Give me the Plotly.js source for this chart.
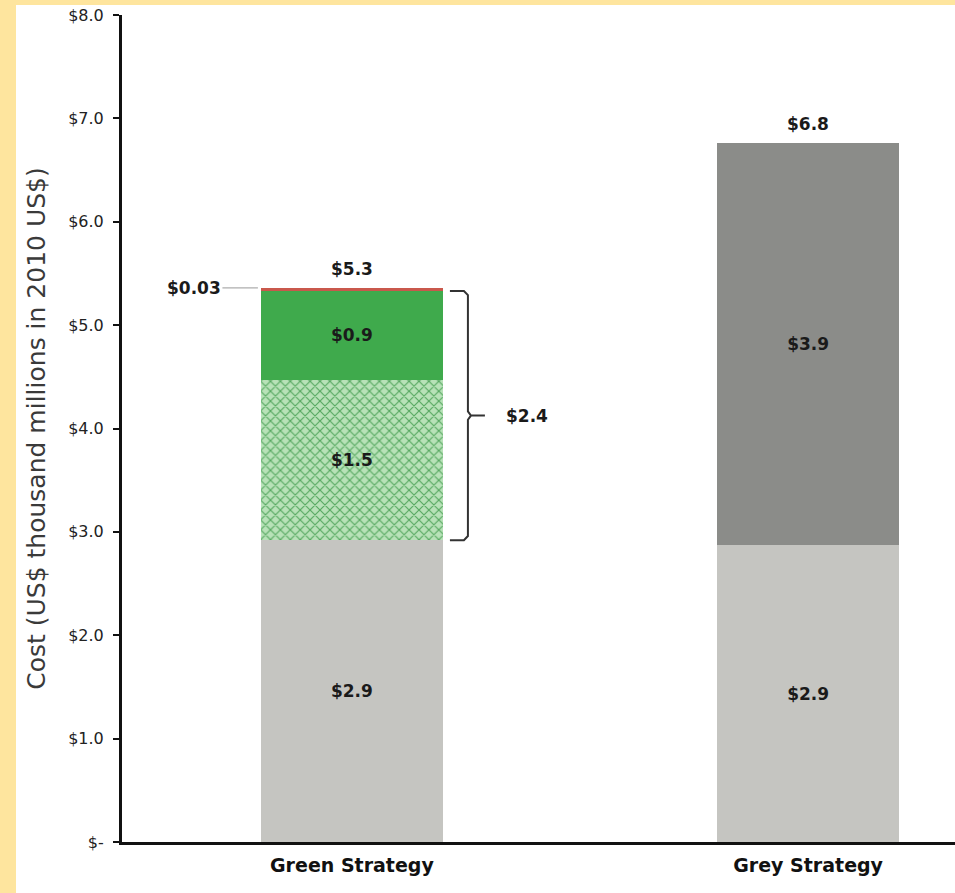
<!DOCTYPE html>
<html>
<head>
<meta charset="utf-8">
<script src="https://cdn.plot.ly/plotly-3.0.1.min.js"></script>
<style>
html,body{margin:0;padding:0;background:#FEE59E;width:955px;height:893px;overflow:hidden;}
#chart{position:absolute;left:16px;top:5px;width:939px;height:888px;background:#fff;}
</style>
</head>
<body>
<div id="chart"></div>
<script>
// ---- data ----
const categories = ["Green Strategy", "Grey Strategy"];
const baseCost = [2.92, 2.87];          // light grey segment
const greenHatch = [1.55, 0];           // hatched green segment
const greenSolid = [0.86, 0];           // solid green segment
const redSliver = [0.03, 0];            // thin red segment
const greyExtra = [0, 3.89];            // dark grey segment
const baseLabels = ["$2.9", "$2.9"];
const hatchLabels = ["$1.5", ""];
const solidLabels = ["$0.9", ""];
const greyLabels = ["", "$3.9"];
const totalLabels = ["$5.3", "$6.8"];
const sliverLabel = "$0.03";
const bracketLabel = "$2.4";
const tickValues = [0, 1, 2, 3, 4, 5, 6, 7, 8];
const tickLabels = ["$-", "$1.0", "$2.0", "$3.0", "$4.0", "$5.0", "$6.0", "$7.0", "$8.0"];

const FONT = "DejaVu Sans, sans-serif";
const labelFont = {family: FONT, size: 17, color: "#1a1a1a", weight: 700};
const W = 0.4;

function barTrace(vals, color, labels, extra) {
  return Object.assign({
    type: "bar", x: categories, y: vals, width: W,
    marker: {color: color, line: {width: 0}},
    text: labels, texttemplate: "%{text}", textposition: "inside",
    insidetextanchor: "middle", textangle: 0,
    insidetextfont: labelFont, hoverinfo: "skip", showlegend: false
  }, extra || {});
}

const totals = categories.map((c, i) => baseCost[i] + greenHatch[i] + greenSolid[i] + redSliver[i] + greyExtra[i]);

const traces = [
  barTrace(baseCost, "#C5C5C1", baseLabels),
  barTrace(greenHatch, "#B3DEB3", hatchLabels, {
    marker: {color: "#B3DEB3", line: {width: 0},
      pattern: {shape: "x", fgcolor: "#55A85F", bgcolor: "#B8E2B8", size: 7, solidity: 0.3}}
  }),
  barTrace(greenSolid, "#3FAA4C", solidLabels),
  barTrace(redSliver, "#C9584C", ["", ""]),
  barTrace(greyExtra, "#8B8C89", greyLabels)
];

// bracket around the two green segments of the first bar
const y0 = baseCost[0];
const y1 = baseCost[0] + greenHatch[0] + greenSolid[0];
const ym = (y0 + y1) / 2;
const bracketPath = `M 98 ${y1} L 112 ${y1} L 116 ${y1 - 0.04} L 116 ${ym + 0.04} L 119 ${ym} L 133 ${ym} M 119 ${ym} L 116 ${ym - 0.04} L 116 ${y0 + 0.04} L 112 ${y0} L 98 ${y0}`;

const totalAnnotations = categories.map((c, i) => ({
  x: c, y: totals[i], xref: "x", yref: "y", yanchor: "bottom", yshift: 7,
  text: totalLabels[i], showarrow: false, font: labelFont
}));

const layout = {
  width: 939, height: 888,
  margin: {l: 106, r: 0, t: 10, b: 51},
  paper_bgcolor: "#ffffff", plot_bgcolor: "#ffffff",
  barmode: "stack",
  bargap: 0,
  font: {family: FONT, color: "#1a1a1a"},
  xaxis: {
    type: "category", range: [-0.504, 1.322],
    showline: true, linecolor: "#111", linewidth: 3,
    ticks: "", showgrid: false, zeroline: false,
    ticklabelstandoff: 4,
    tickfont: {family: FONT, size: 19, color: "#111", weight: 700}
  },
  yaxis: {
    range: [0, 8], tickvals: tickValues, ticktext: tickLabels,
    showline: true, linecolor: "#111", linewidth: 3,
    ticks: "outside", ticklen: 6, tickwidth: 2, tickcolor: "#111",
    showgrid: false, zeroline: false,
    tickfont: {family: FONT, size: 16, color: "#222"},
    ticklabelstandoff: 6,
    title: {text: "Cost (US$ thousand millions in 2010 US$)", standoff: 16,
      font: {family: FONT, size: 25, color: "#3a3a3a", weight: 400}}
  },
  shapes: [{
    type: "path", xref: "x", yref: "y", xsizemode: "pixel", xanchor: 0,
    path: bracketPath, line: {color: "#333", width: 2}
  }],
  annotations: totalAnnotations.concat([
    {x: categories[0], y: totals[0], xref: "x", yref: "y", xshift: -94,
     text: sliverLabel, showarrow: true, arrowhead: 0, arrowwidth: 1, arrowcolor: "#999",
     ax: -64, ay: 0, font: labelFont},
    {x: categories[0], y: ym, xref: "x", yref: "y", xshift: 175,
     text: bracketLabel, showarrow: false, font: labelFont}
  ])
};

Plotly.newPlot("chart", traces, layout, {displayModeBar: false, staticPlot: true});
</script>
</body>
</html>
